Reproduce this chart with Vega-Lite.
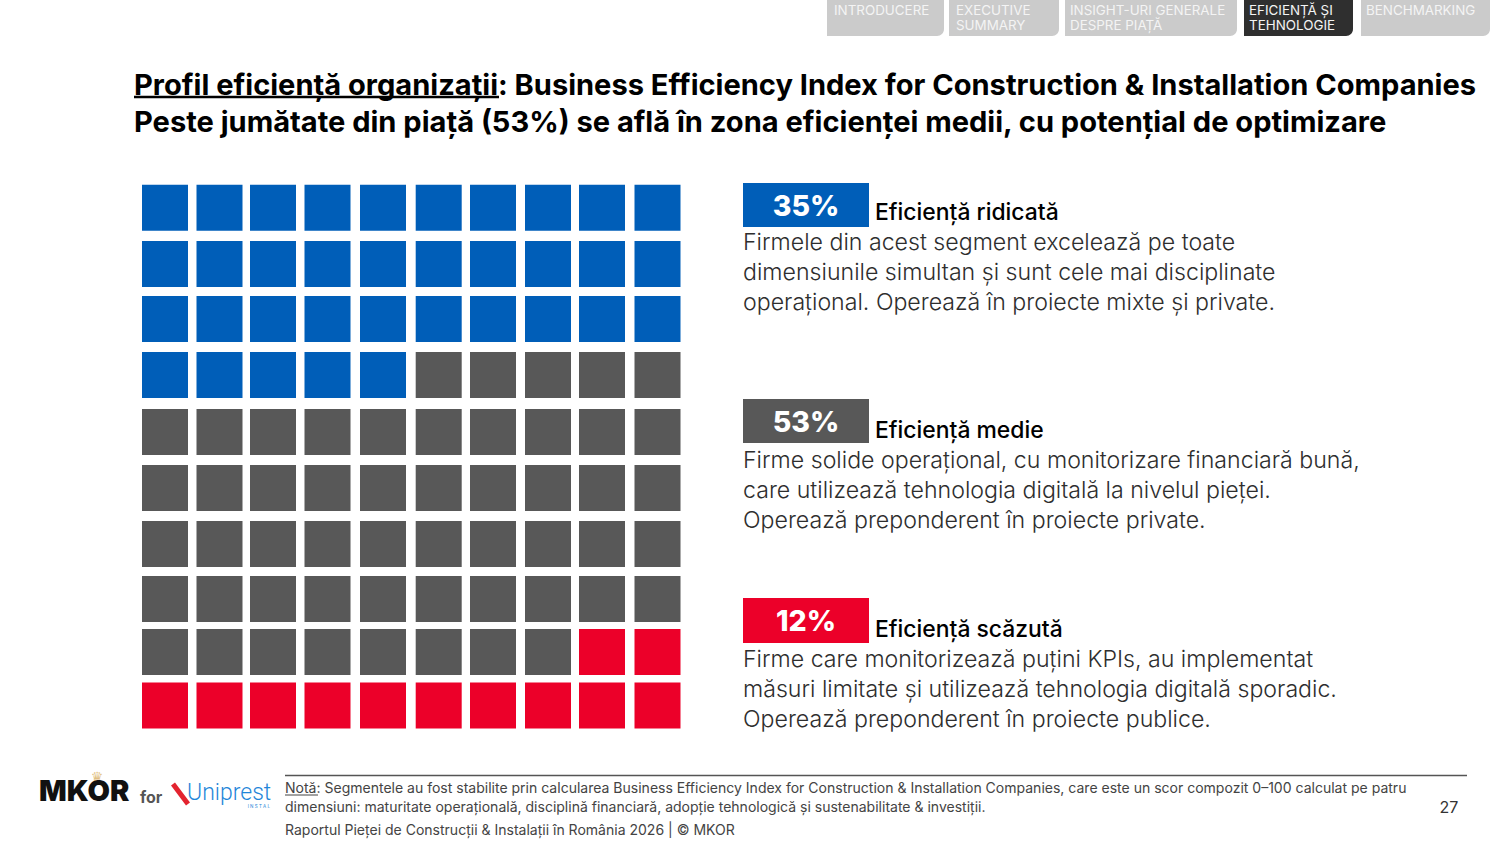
{"$schema":"https://vega.github.io/schema/vega-lite/v6.json","width":1500,"height":844,"padding":0,"autosize":{"type":"fit","contains":"padding"},"background":"#ffffff","config":{"view":{"stroke":null},"font":"Inter"},
"resolve":{"scale":{"x":"independent","y":"independent"}},
"layer":[
{"encoding":{"x":{"field":"x","type":"quantitative","axis":null,"scale":{"domain":[0,1500],"range":[0,1500],"nice":false,"zero":false}},"y":{"field":"y","type":"quantitative","axis":null,"scale":{"domain":[0,844],"range":[0,844],"nice":false,"zero":false}}},
"layer":[
{"data":{"values":[{"tab":"INTRODUCERE","x":827,"x2":944,"y":0,"y2":36},{"tab":"EXECUTIVE SUMMARY","x":949,"x2":1059,"y":0,"y2":36},{"tab":"INSIGHT-URI GENERALE DESPRE PIAȚĂ","x":1065,"x2":1237,"y":0,"y2":36},{"tab":"BENCHMARKING","x":1361,"x2":1490,"y":0,"y2":36}]},"mark":{"type":"rect","color":"#CBCBCB","cornerRadiusBottomRight":7},"encoding":{"x2":{"field":"x2"},"y2":{"field":"y2"}}},
{"data":{"values":[{"tab":"EFICIENȚĂ ȘI TEHNOLOGIE","x":1244,"x2":1353,"y":0,"y2":36}]},"mark":{"type":"rect","color":"#2F2F2F","cornerRadiusBottomRight":7},"encoding":{"x2":{"field":"x2"},"y2":{"field":"y2"}}},
{"data":{"values":[{"text":"INTRODUCERE","x":834,"y":14.5},{"text":"EXECUTIVE","x":956,"y":14.5},{"text":"SUMMARY","x":956,"y":30},{"text":"INSIGHT-URI GENERALE","x":1070,"y":14.5},{"text":"DESPRE PIAȚĂ","x":1070,"y":30},{"text":"EFICIENȚĂ ȘI","x":1249,"y":14.5},{"text":"TEHNOLOGIE","x":1249,"y":30},{"text":"BENCHMARKING","x":1366,"y":14.5}]},"mark":{"type":"text","align":"left","baseline":"alphabetic","fontSize":13.4,"fontWeight":400,"color":"#F4F4F4"},"encoding":{"text":{"field":"text"}}},
{"data":{"values":[{"text":"Profil eficiență organizații: Business Efficiency Index for Construction & Installation Companies","x":134,"y":94.5},{"text":"Peste jumătate din piață (53%) se află în zona eficienței medii, cu potențial de optimizare","x":134,"y":131.5}]},"mark":{"type":"text","align":"left","baseline":"alphabetic","fontSize":29.05,"fontWeight":700,"color":"#000000"},"encoding":{"text":{"field":"text"}}},
{"data":{"values":[{"x":134,"x2":499,"y":97,"y2":97}]},"mark":{"type":"rule","color":"#000000","strokeWidth":2.5},"encoding":{"x2":{"field":"x2"},"y2":{"field":"y2"}}},
{"data":{"values":[{"segment":"Eficiență ridicată","x":743,"x2":869,"y":183,"y2":227},{"segment":"Eficiență medie","x":743,"x2":869,"y":399,"y2":443},{"segment":"Eficiență scăzută","x":743,"x2":869,"y":598,"y2":643}]},"mark":{"type":"rect"},"encoding":{"x2":{"field":"x2"},"y2":{"field":"y2"},"color":{"field":"segment","type":"nominal","legend":null,"scale":{"domain":["Eficiență ridicată","Eficiență medie","Eficiență scăzută"],"range":["#005EB8","#585858","#EC0029"]}}}},
{"data":{"values":[{"text":"35%","x":806,"y":216},{"text":"53%","x":806,"y":432},{"text":"12%","x":806,"y":631}]},"mark":{"type":"text","align":"center","baseline":"alphabetic","fontSize":28.5,"fontWeight":800,"color":"#FFFFFF"},"encoding":{"text":{"field":"text"}}},
{"data":{"values":[{"text":"Eficiență ridicată","x":875,"y":220},{"text":"Eficiență medie","x":875,"y":438},{"text":"Eficiență scăzută","x":875,"y":637}]},"mark":{"type":"text","align":"left","baseline":"alphabetic","fontSize":22.9,"fontWeight":500,"color":"#000000"},"encoding":{"text":{"field":"text"}}},
{"data":{"values":[{"text":"Firmele din acest segment excelează pe toate","x":743,"y":250},{"text":"dimensiunile simultan și sunt cele mai disciplinate","x":743,"y":280},{"text":"operațional. Operează în proiecte mixte și private.","x":743,"y":310},{"text":"Firme solide operațional, cu monitorizare financiară bună,","x":743,"y":468},{"text":"care utilizează tehnologia digitală la nivelul pieței.","x":743,"y":498},{"text":"Operează preponderent în proiecte private.","x":743,"y":528},{"text":"Firme care monitorizează puțini KPIs, au implementat","x":743,"y":667},{"text":"măsuri limitate și utilizează tehnologia digitală sporadic.","x":743,"y":697},{"text":"Operează preponderent în proiecte publice.","x":743,"y":727}]},"mark":{"type":"text","align":"left","baseline":"alphabetic","fontSize":23.15,"fontWeight":300,"color":"#2E2E2E"},"encoding":{"text":{"field":"text"}}},
{"data":{"values":[{"x":285,"x2":1467,"y":775.5,"y2":775.5}]},"mark":{"type":"rule","color":"#555555","strokeWidth":1.5},"encoding":{"x2":{"field":"x2"},"y2":{"field":"y2"}}},
{"data":{"values":[{"text":"Notă: Segmentele au fost stabilite prin calcularea Business Efficiency Index for Construction & Installation Companies, care este un scor compozit 0–100 calculat pe patru","x":285,"y":793},{"text":"dimensiuni: maturitate operațională, disciplină financiară, adopție tehnologică și sustenabilitate & investiții.","x":285,"y":812},{"text":"Raportul Pieței de Construcții & Instalații în România 2026 | © MKOR","x":285,"y":835}]},"mark":{"type":"text","align":"left","baseline":"alphabetic","fontSize":14.03,"fontWeight":400,"color":"#444444"},"encoding":{"text":{"field":"text"}}},
{"data":{"values":[{"x":285,"x2":318,"y":795,"y2":795}]},"mark":{"type":"rule","color":"#444444","strokeWidth":1},"encoding":{"x2":{"field":"x2"},"y2":{"field":"y2"}}},
{"data":{"values":[{"text":"27","x":1449,"y":812.5}]},"mark":{"type":"text","align":"center","baseline":"alphabetic","fontSize":16,"color":"#333333"},"encoding":{"text":{"field":"text"}}},
{"data":{"values":[{"text":"♛","x":97,"y":782}]},"mark":{"type":"text","align":"center","baseline":"alphabetic","font":"DejaVu Sans","fontSize":14,"color":"#E0BE82"},"encoding":{"text":{"field":"text"}}},
{"data":{"values":[{"text":"MKOR","x":39,"y":801}]},"mark":{"type":"text","align":"left","baseline":"alphabetic","fontSize":29,"fontWeight":900,"color":"#111111"},"encoding":{"text":{"field":"text"}}},
{"data":{"values":[{"text":"for","x":140,"y":803}]},"mark":{"type":"text","align":"left","baseline":"alphabetic","fontSize":16,"fontWeight":700,"color":"#555555"},"encoding":{"text":{"field":"text"}}},
{"data":{"values":[{"x":173,"x2":188,"y":784,"y2":804}]},"mark":{"type":"rule","color":"#E3232F","strokeWidth":5},"encoding":{"x2":{"field":"x2"},"y2":{"field":"y2"}}},
{"data":{"values":[{"text":"Uniprest","x":187,"y":800}]},"mark":{"type":"text","align":"left","baseline":"alphabetic","font":"Roboto","fontSize":23,"fontWeight":300,"color":"#1F86D9"},"encoding":{"text":{"field":"text"}}},
{"data":{"values":[{"text":"I N S T A L","x":270,"y":808}]},"mark":{"type":"text","align":"right","baseline":"alphabetic","fontSize":4.5,"color":"#1F86D9"},"encoding":{"text":{"field":"text"}}}
]},
{"data":{"values":[
{"col":1,"row":1,"segment":"Eficiență ridicată"},{"col":2,"row":1,"segment":"Eficiență ridicată"},{"col":3,"row":1,"segment":"Eficiență ridicată"},{"col":4,"row":1,"segment":"Eficiență ridicată"},{"col":5,"row":1,"segment":"Eficiență ridicată"},{"col":6,"row":1,"segment":"Eficiență ridicată"},{"col":7,"row":1,"segment":"Eficiență ridicată"},{"col":8,"row":1,"segment":"Eficiență ridicată"},{"col":9,"row":1,"segment":"Eficiență ridicată"},{"col":10,"row":1,"segment":"Eficiență ridicată"},
{"col":1,"row":2,"segment":"Eficiență ridicată"},{"col":2,"row":2,"segment":"Eficiență ridicată"},{"col":3,"row":2,"segment":"Eficiență ridicată"},{"col":4,"row":2,"segment":"Eficiență ridicată"},{"col":5,"row":2,"segment":"Eficiență ridicată"},{"col":6,"row":2,"segment":"Eficiență ridicată"},{"col":7,"row":2,"segment":"Eficiență ridicată"},{"col":8,"row":2,"segment":"Eficiență ridicată"},{"col":9,"row":2,"segment":"Eficiență ridicată"},{"col":10,"row":2,"segment":"Eficiență ridicată"},
{"col":1,"row":3,"segment":"Eficiență ridicată"},{"col":2,"row":3,"segment":"Eficiență ridicată"},{"col":3,"row":3,"segment":"Eficiență ridicată"},{"col":4,"row":3,"segment":"Eficiență ridicată"},{"col":5,"row":3,"segment":"Eficiență ridicată"},{"col":6,"row":3,"segment":"Eficiență ridicată"},{"col":7,"row":3,"segment":"Eficiență ridicată"},{"col":8,"row":3,"segment":"Eficiență ridicată"},{"col":9,"row":3,"segment":"Eficiență ridicată"},{"col":10,"row":3,"segment":"Eficiență ridicată"},
{"col":1,"row":4,"segment":"Eficiență ridicată"},{"col":2,"row":4,"segment":"Eficiență ridicată"},{"col":3,"row":4,"segment":"Eficiență ridicată"},{"col":4,"row":4,"segment":"Eficiență ridicată"},{"col":5,"row":4,"segment":"Eficiență ridicată"},{"col":6,"row":4,"segment":"Eficiență medie"},{"col":7,"row":4,"segment":"Eficiență medie"},{"col":8,"row":4,"segment":"Eficiență medie"},{"col":9,"row":4,"segment":"Eficiență medie"},{"col":10,"row":4,"segment":"Eficiență medie"},
{"col":1,"row":5,"segment":"Eficiență medie"},{"col":2,"row":5,"segment":"Eficiență medie"},{"col":3,"row":5,"segment":"Eficiență medie"},{"col":4,"row":5,"segment":"Eficiență medie"},{"col":5,"row":5,"segment":"Eficiență medie"},{"col":6,"row":5,"segment":"Eficiență medie"},{"col":7,"row":5,"segment":"Eficiență medie"},{"col":8,"row":5,"segment":"Eficiență medie"},{"col":9,"row":5,"segment":"Eficiență medie"},{"col":10,"row":5,"segment":"Eficiență medie"},
{"col":1,"row":6,"segment":"Eficiență medie"},{"col":2,"row":6,"segment":"Eficiență medie"},{"col":3,"row":6,"segment":"Eficiență medie"},{"col":4,"row":6,"segment":"Eficiență medie"},{"col":5,"row":6,"segment":"Eficiență medie"},{"col":6,"row":6,"segment":"Eficiență medie"},{"col":7,"row":6,"segment":"Eficiență medie"},{"col":8,"row":6,"segment":"Eficiență medie"},{"col":9,"row":6,"segment":"Eficiență medie"},{"col":10,"row":6,"segment":"Eficiență medie"},
{"col":1,"row":7,"segment":"Eficiență medie"},{"col":2,"row":7,"segment":"Eficiență medie"},{"col":3,"row":7,"segment":"Eficiență medie"},{"col":4,"row":7,"segment":"Eficiență medie"},{"col":5,"row":7,"segment":"Eficiență medie"},{"col":6,"row":7,"segment":"Eficiență medie"},{"col":7,"row":7,"segment":"Eficiență medie"},{"col":8,"row":7,"segment":"Eficiență medie"},{"col":9,"row":7,"segment":"Eficiență medie"},{"col":10,"row":7,"segment":"Eficiență medie"},
{"col":1,"row":8,"segment":"Eficiență medie"},{"col":2,"row":8,"segment":"Eficiență medie"},{"col":3,"row":8,"segment":"Eficiență medie"},{"col":4,"row":8,"segment":"Eficiență medie"},{"col":5,"row":8,"segment":"Eficiență medie"},{"col":6,"row":8,"segment":"Eficiență medie"},{"col":7,"row":8,"segment":"Eficiență medie"},{"col":8,"row":8,"segment":"Eficiență medie"},{"col":9,"row":8,"segment":"Eficiență medie"},{"col":10,"row":8,"segment":"Eficiență medie"},
{"col":1,"row":9,"segment":"Eficiență medie"},{"col":2,"row":9,"segment":"Eficiență medie"},{"col":3,"row":9,"segment":"Eficiență medie"},{"col":4,"row":9,"segment":"Eficiență medie"},{"col":5,"row":9,"segment":"Eficiență medie"},{"col":6,"row":9,"segment":"Eficiență medie"},{"col":7,"row":9,"segment":"Eficiență medie"},{"col":8,"row":9,"segment":"Eficiență medie"},{"col":9,"row":9,"segment":"Eficiență scăzută"},{"col":10,"row":9,"segment":"Eficiență scăzută"},
{"col":1,"row":10,"segment":"Eficiență scăzută"},{"col":2,"row":10,"segment":"Eficiență scăzută"},{"col":3,"row":10,"segment":"Eficiență scăzută"},{"col":4,"row":10,"segment":"Eficiență scăzută"},{"col":5,"row":10,"segment":"Eficiență scăzută"},{"col":6,"row":10,"segment":"Eficiență scăzută"},{"col":7,"row":10,"segment":"Eficiență scăzută"},{"col":8,"row":10,"segment":"Eficiență scăzută"},{"col":9,"row":10,"segment":"Eficiență scăzută"},{"col":10,"row":10,"segment":"Eficiență scăzută"}
]},"mark":{"type":"rect","width":46,"height":46},"encoding":{"x":{"field":"col","type":"quantitative","axis":null,"scale":{"domain":[1,2,3,4,5,6,7,8,9,10],"range":[165,219.5,273,327.5,383,438.7,493,548,602,657.5]}},"y":{"field":"row","type":"quantitative","axis":null,"scale":{"domain":[1,2,3,4,5,6,7,8,9,10],"range":[207.8,264,319,375,432,488,544,599,652,705.5]}},"color":{"field":"segment","type":"nominal","legend":null,"scale":{"domain":["Eficiență ridicată","Eficiență medie","Eficiență scăzută"],"range":["#005EB8","#585858","#EC0029"]}}}}
]}
